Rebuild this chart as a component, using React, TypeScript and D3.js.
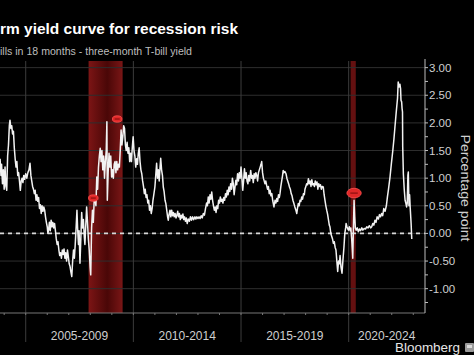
import React from "react";
import * as d3 from "d3";

// ---------- data ----------
const titleText = "rm yield curve for recession risk";
const subtitleText = "ills in 18 months - three-month T-bill yield";
const axisTitle = "Percentage point";
const sourceText = "Bloomberg";

const periodLabels = ["2005-2009", "2010-2014", "2015-2019", "2020-2024"];
const periodStarts = [2005, 2010, 2015, 2020];
const yTickValues = [3, 2.5, 2, 1.5, 1, 0.5, 0, -0.5, -1];
const yTickLabels = ["3.00", "2.50", "2.00", "1.50", "1.00", "0.50", "0.00", "-0.50", "-1.00"];
const recessions: [number, number][] = [
  [2007.92, 2009.5],
  [2020.09, 2020.33],
];
const annotations: [number, number, number][] = [
  // year, value, size
  [2008.14, 0.64, 1],
  [2009.25, 2.07, 1],
  [2020.25, 0.73, 1.5],
];

// [decimal year, spread in percentage points]
const spreadSeries: [number, number][] = [
  [2003.81, 1.35], [2003.85, 1.05], [2003.88, 1.25], [2003.92, 0.9], [2003.96, 1.15],
  [2004.0, 0.8], [2004.04, 1.2], [2004.08, 0.85], [2004.12, 0.78], [2004.16, 1.4],
  [2004.2, 1.6], [2004.24, 1.95], [2004.27, 2.05], [2004.31, 1.9], [2004.35, 1.95],
  [2004.39, 1.8], [2004.43, 1.85], [2004.47, 1.55], [2004.51, 1.35], [2004.55, 1.2],
  [2004.59, 1.3], [2004.63, 1.05], [2004.67, 1.1], [2004.71, 0.95], [2004.75, 0.78],
  [2004.79, 0.95], [2004.83, 1.0], [2004.87, 0.92], [2004.91, 1.05], [2004.95, 0.98],
  [2005.0, 1.08], [2005.05, 1.0], [2005.1, 1.1], [2005.15, 1.15], [2005.2, 1.27],
  [2005.24, 1.05], [2005.28, 0.95], [2005.32, 0.85], [2005.36, 0.8], [2005.4, 0.72],
  [2005.44, 0.78], [2005.48, 0.6], [2005.52, 0.7], [2005.56, 0.58], [2005.6, 0.65],
  [2005.64, 0.45], [2005.68, 0.52], [2005.72, 0.36], [2005.76, 0.5], [2005.8, 0.4],
  [2005.84, 0.48], [2005.88, 0.42], [2005.92, 0.3], [2005.96, 0.2], [2006.0, 0.12],
  [2006.03, 0.0], [2006.06, 0.05], [2006.1, 0.2], [2006.14, 0.05], [2006.18, 0.24],
  [2006.22, 0.12], [2006.26, 0.2], [2006.3, 0.1], [2006.34, 0.18], [2006.38, 0.05],
  [2006.42, -0.1], [2006.46, -0.2], [2006.5, -0.15], [2006.54, -0.3], [2006.58, -0.4],
  [2006.62, -0.35], [2006.66, -0.45], [2006.7, -0.3], [2006.74, -0.38], [2006.78, -0.28],
  [2006.82, -0.45], [2006.86, -0.35], [2006.9, -0.5], [2006.94, -0.3], [2006.98, -0.42],
  [2007.02, -0.55], [2007.06, -0.6], [2007.1, -0.7], [2007.14, -0.78], [2007.18, -0.5],
  [2007.22, -0.3], [2007.26, -0.45], [2007.3, -0.2], [2007.34, 0.1], [2007.38, 0.42],
  [2007.41, 0.1], [2007.45, -0.2], [2007.48, 0.05], [2007.52, -0.54], [2007.56, -0.1],
  [2007.6, 0.38], [2007.64, 0.1], [2007.68, 0.25], [2007.72, -0.05], [2007.75, -0.2],
  [2007.79, 0.15], [2007.83, 0.48], [2007.87, 0.2], [2007.91, -0.1], [2007.95, -0.3],
  [2007.99, -0.6], [2008.02, -0.75], [2008.06, 0.1], [2008.1, 0.42], [2008.14, 0.2],
  [2008.18, 0.6], [2008.22, 0.66], [2008.26, 0.5], [2008.3, 1.02], [2008.34, 0.8],
  [2008.38, 1.2], [2008.42, 1.4], [2008.46, 1.54], [2008.5, 1.3], [2008.54, 1.5],
  [2008.58, 1.15], [2008.62, 1.4], [2008.66, 1.0], [2008.7, 1.3], [2008.74, 1.5],
  [2008.77, 2.02], [2008.79, 0.6], [2008.83, 1.1], [2008.87, 1.45], [2008.91, 1.2],
  [2008.95, 1.4], [2008.99, 1.02], [2009.03, 1.15], [2009.07, 1.0], [2009.11, 1.25],
  [2009.15, 1.3], [2009.19, 1.1], [2009.23, 1.3], [2009.27, 1.15], [2009.31, 1.25],
  [2009.35, 1.2], [2009.39, 1.5], [2009.43, 1.87], [2009.47, 1.6], [2009.51, 1.75],
  [2009.55, 1.95], [2009.59, 1.9], [2009.63, 1.6], [2009.67, 1.5], [2009.71, 1.65],
  [2009.75, 1.45], [2009.79, 1.55], [2009.83, 1.3], [2009.87, 1.45], [2009.91, 1.3],
  [2009.95, 1.55], [2009.99, 1.75], [2010.03, 1.5], [2010.07, 1.4], [2010.11, 1.2],
  [2010.15, 1.35], [2010.19, 1.25], [2010.23, 1.45], [2010.27, 1.55], [2010.31, 1.3],
  [2010.35, 1.15], [2010.39, 1.08], [2010.43, 0.95], [2010.47, 0.85], [2010.51, 0.72],
  [2010.55, 0.8], [2010.59, 0.65], [2010.63, 0.7], [2010.67, 0.55], [2010.71, 0.6],
  [2010.75, 0.42], [2010.79, 0.5], [2010.83, 0.36], [2010.87, 0.45], [2010.91, 0.6],
  [2010.95, 0.7], [2011.0, 0.84], [2011.04, 1.05], [2011.08, 1.27], [2011.12, 1.0],
  [2011.16, 1.15], [2011.2, 0.95], [2011.24, 1.2], [2011.27, 1.36], [2011.31, 1.15],
  [2011.35, 1.05], [2011.39, 0.84], [2011.43, 0.75], [2011.47, 0.6], [2011.51, 0.54],
  [2011.55, 0.42], [2011.59, 0.3], [2011.62, 0.24], [2011.66, 0.35], [2011.7, 0.42],
  [2011.74, 0.3], [2011.78, 0.42], [2011.82, 0.32], [2011.86, 0.38], [2011.9, 0.3],
  [2011.94, 0.36], [2011.98, 0.28], [2012.02, 0.33], [2012.06, 0.4], [2012.1, 0.3],
  [2012.14, 0.36], [2012.18, 0.25], [2012.22, 0.33], [2012.26, 0.28], [2012.3, 0.35],
  [2012.34, 0.25], [2012.38, 0.3], [2012.42, 0.22], [2012.46, 0.28], [2012.5, 0.18],
  [2012.55, 0.26], [2012.6, 0.22], [2012.65, 0.3], [2012.7, 0.24], [2012.75, 0.3],
  [2012.8, 0.25], [2012.86, 0.3], [2012.9, 0.26], [2012.95, 0.3], [2013.0, 0.27],
  [2013.05, 0.3], [2013.1, 0.27], [2013.15, 0.32], [2013.2, 0.28], [2013.25, 0.36],
  [2013.3, 0.33], [2013.35, 0.45], [2013.4, 0.55], [2013.44, 0.5], [2013.48, 0.66],
  [2013.52, 0.55], [2013.56, 0.7], [2013.6, 0.62], [2013.64, 0.75], [2013.68, 0.6],
  [2013.72, 0.5], [2013.76, 0.42], [2013.8, 0.48], [2013.84, 0.38], [2013.88, 0.5],
  [2013.92, 0.45], [2013.96, 0.6], [2014.0, 0.55], [2014.04, 0.66], [2014.08, 0.58],
  [2014.12, 0.62], [2014.16, 0.55], [2014.2, 0.65], [2014.24, 0.6], [2014.28, 0.72],
  [2014.32, 0.66], [2014.36, 0.78], [2014.4, 0.7], [2014.44, 0.84], [2014.48, 0.76],
  [2014.52, 0.9], [2014.56, 0.8], [2014.6, 1.0], [2014.64, 0.9], [2014.68, 0.7],
  [2014.72, 0.84], [2014.76, 0.96], [2014.8, 0.88], [2014.84, 1.08], [2014.88, 0.95],
  [2014.92, 1.1], [2014.96, 1.0], [2015.0, 1.2], [2015.04, 1.0], [2015.08, 0.78],
  [2015.12, 0.95], [2015.16, 1.17], [2015.2, 1.0], [2015.24, 1.1], [2015.28, 0.95],
  [2015.32, 0.9], [2015.36, 1.05], [2015.4, 0.95], [2015.45, 1.14], [2015.49, 1.0],
  [2015.53, 1.05], [2015.57, 0.92], [2015.61, 1.08], [2015.65, 1.0], [2015.69, 1.1],
  [2015.73, 1.05], [2015.77, 0.95], [2015.81, 1.1], [2015.85, 1.15], [2015.89, 1.2],
  [2015.93, 1.25], [2015.96, 1.3], [2016.0, 1.1], [2016.04, 1.0], [2016.07, 0.96],
  [2016.11, 0.9], [2016.15, 0.95], [2016.19, 0.87], [2016.23, 0.8], [2016.27, 0.85],
  [2016.31, 0.72], [2016.35, 0.78], [2016.39, 0.68], [2016.43, 0.72], [2016.47, 0.6],
  [2016.53, 0.48], [2016.58, 0.6], [2016.62, 0.55], [2016.66, 0.63], [2016.7, 0.58],
  [2016.74, 0.7], [2016.78, 0.65], [2016.81, 0.72], [2016.85, 0.85], [2016.89, 0.95],
  [2016.93, 1.05], [2016.96, 1.14], [2017.0, 1.1], [2017.04, 1.12], [2017.09, 1.08],
  [2017.13, 1.0], [2017.17, 0.95], [2017.21, 0.9], [2017.25, 0.84], [2017.29, 0.8],
  [2017.33, 0.72], [2017.37, 0.68], [2017.41, 0.6], [2017.45, 0.55], [2017.5, 0.48],
  [2017.55, 0.42], [2017.59, 0.36], [2017.62, 0.45], [2017.66, 0.54], [2017.7, 0.5],
  [2017.74, 0.6], [2017.78, 0.58], [2017.82, 0.66], [2017.86, 0.62], [2017.9, 0.72],
  [2017.94, 0.7], [2017.97, 0.8], [2018.01, 0.85], [2018.05, 0.9], [2018.09, 0.88],
  [2018.13, 0.99], [2018.17, 0.9], [2018.21, 0.95], [2018.25, 0.85], [2018.29, 0.97],
  [2018.33, 0.88], [2018.37, 0.9], [2018.41, 0.85], [2018.45, 0.95], [2018.49, 0.88],
  [2018.53, 0.93], [2018.57, 0.8], [2018.61, 0.9], [2018.65, 0.85], [2018.69, 0.88],
  [2018.73, 0.8], [2018.77, 0.85], [2018.82, 0.84], [2018.86, 0.7], [2018.9, 0.6],
  [2018.94, 0.5], [2018.98, 0.42], [2019.02, 0.35], [2019.06, 0.25], [2019.1, 0.15],
  [2019.13, 0.12], [2019.17, 0.0], [2019.21, -0.05], [2019.25, -0.1], [2019.29, -0.18],
  [2019.33, -0.15], [2019.37, -0.25], [2019.41, -0.3], [2019.45, -0.5], [2019.49, -0.69],
  [2019.53, -0.5], [2019.57, -0.55], [2019.6, -0.4], [2019.64, -0.6], [2019.69, -0.72],
  [2019.73, -0.5], [2019.78, -0.25], [2019.82, 0.0], [2019.86, 0.1], [2019.88, 0.18],
  [2019.92, 0.12], [2019.96, 0.08], [2019.99, 0.06], [2020.03, 0.12], [2020.07, 0.05],
  [2020.1, 0.1], [2020.14, -0.1], [2020.17, -0.3], [2020.19, -0.45], [2020.22, 0.1],
  [2020.25, 0.6], [2020.28, 0.3], [2020.31, 0.1], [2020.35, 0.06], [2020.4, 0.1],
  [2020.45, 0.03], [2020.5, 0.08], [2020.55, 0.05], [2020.61, 0.1], [2020.66, 0.06],
  [2020.72, 0.09], [2020.78, 0.08], [2020.84, 0.12], [2020.9, 0.1], [2020.96, 0.14],
  [2021.02, 0.1], [2021.07, 0.12], [2021.12, 0.18], [2021.17, 0.15], [2021.22, 0.24],
  [2021.27, 0.2], [2021.32, 0.3], [2021.38, 0.26], [2021.43, 0.34], [2021.48, 0.3],
  [2021.53, 0.36], [2021.58, 0.32], [2021.63, 0.45], [2021.69, 0.4], [2021.75, 0.5],
  [2021.8, 0.66], [2021.85, 0.8], [2021.92, 1.02], [2021.98, 1.25], [2022.05, 1.5],
  [2022.1, 1.7], [2022.15, 1.93], [2022.21, 2.2], [2022.27, 2.45], [2022.3, 2.74],
  [2022.34, 2.65], [2022.38, 2.7], [2022.41, 2.62], [2022.43, 2.41], [2022.46, 2.38],
  [2022.48, 2.26], [2022.5, 2.2], [2022.51, 1.57], [2022.54, 1.08], [2022.58, 0.8],
  [2022.62, 0.6], [2022.66, 0.54], [2022.69, 0.48], [2022.72, 0.55], [2022.75, 1.05],
  [2022.77, 1.11], [2022.8, 0.5], [2022.83, 0.7], [2022.86, 0.45], [2022.9, 0.18],
  [2022.93, -0.1],
];

// ---------- layout ----------
const W = 474;
const H = 355;
const plotLeft = 0;
const plotRight = 425;
const plotTop = 61;
const plotBottom = 313;
const FONT = "'Liberation Sans', Arial, sans-serif";

export default function App() {
  React.useEffect(() => {
    document.body.style.margin = "0";
    document.body.style.background = "#000";
  }, []);

  const x = d3.scaleLinear().domain([2003.806, 2023.545]).range([plotLeft, plotRight]);
  const y = d3.scaleLinear().domain([-1.44, 3.12]).range([plotBottom, plotTop]);

  const line = d3
    .line<[number, number]>()
    .x((d) => x(d[0]))
    .y((d) => y(d[1]));

  const minorY = d3.range(-1.25, 3.01, 0.25);
  const yearTicks = d3.range(2004, 2024, 1);

  return (
    <svg
      width={W}
      height={H}
      viewBox={`0 0 ${W} ${H}`}
      style={{ position: "fixed", left: 0, top: 0, background: "#000", display: "block" }}
    >
      <defs>
        <linearGradient id="recGrad" x1="0" x2="1" y1="0" y2="0">
          <stop offset="0%" stopColor="#7c1515" />
          <stop offset="55%" stopColor="#4a0707" />
          <stop offset="100%" stopColor="#7a1616" />
        </linearGradient>
      </defs>
      <rect x={0} y={0} width={W} height={H} fill="#000" />

      {/* recession bands */}
      {recessions.map(([a, b], i) => (
        <rect
          key={i}
          x={x(a)}
          y={plotTop}
          width={x(b) - x(a)}
          height={plotBottom - plotTop}
          fill={i === 0 ? "url(#recGrad)" : "#641010"}
        />
      ))}

      {/* horizontal gridlines */}
      {yTickValues.map((v) => (
        <line
          key={v}
          x1={plotLeft}
          x2={plotRight}
          y1={y(v)}
          y2={y(v)}
          stroke="#2e2e2e"
          strokeWidth={1}
        />
      ))}

      {/* vertical period separators */}
      {periodStarts.map((p) => (
        <line
          key={p}
          x1={x(p)}
          x2={x(p)}
          y1={plotTop}
          y2={342}
          stroke="#3c3c3c"
          strokeWidth={1}
        />
      ))}

      {/* zero dashed line */}
      <line
        x1={plotLeft}
        x2={plotRight}
        y1={y(0)}
        y2={y(0)}
        stroke="#d8d8d8"
        strokeWidth={1.6}
        strokeDasharray="4 4"
      />

      {/* data line */}
      <path
        d={line(spreadSeries) || ""}
        fill="none"
        stroke="#f2f2f2"
        strokeWidth={1.5}
        strokeLinejoin="round"
      />

      {/* annotation markers */}
      {annotations.map(([yr, v, s], i) => (
        <g key={i}>
          <ellipse
            cx={x(yr)}
            cy={y(v)}
            rx={4.8 * s}
            ry={3.2 * s}
            fill="#e02828"
            stroke="#ff5050"
            strokeWidth={0.8}
          />
          <line
            x1={x(yr) - 2.5 * s}
            x2={x(yr) + 2.5 * s}
            y1={y(v)}
            y2={y(v)}
            stroke="#7a0a0a"
            strokeWidth={1}
          />
        </g>
      ))}

      {/* x axis */}
      <line x1={plotLeft} x2={plotRight} y1={plotBottom} y2={plotBottom} stroke="#777" strokeWidth={1} />
      {yearTicks.map((t) => (
        <line
          key={t}
          x1={x(t)}
          x2={x(t)}
          y1={plotBottom}
          y2={plotBottom + 2}
          stroke="#777"
          strokeWidth={1}
        />
      ))}
      {periodLabels.map((lab, i) => {
        const start = periodStarts[i];
        const end = Math.min(start + 5, 2023.545);
        const cx = i === 3 ? x(start) + 38 : (x(start) + x(end)) / 2;
        return (
          <text
            key={lab}
            x={cx}
            y={340}
            fill="#cfcfcf"
            fontSize={12}
            fontFamily={FONT}
            textAnchor="middle"
          >
            {lab}
          </text>
        );
      })}

      {/* y axis */}
      <line x1={plotRight} x2={plotRight} y1={plotTop - 2} y2={plotBottom} stroke="#bdbdbd" strokeWidth={1} />
      {minorY.map((v) => (
        <line
          key={v}
          x1={plotRight}
          x2={plotRight + 3}
          y1={y(v)}
          y2={y(v)}
          stroke="#bdbdbd"
          strokeWidth={1}
        />
      ))}
      {yTickValues.map((v, i) => (
        <text
          key={v}
          x={plotRight + 4}
          y={y(v) + 4}
          fill="#d0d0d0"
          fontSize={11.5}
          fontFamily={FONT}
        >
          {yTickLabels[i]}
        </text>
      ))}
      <text
        transform={`translate(461, 188) rotate(90)`}
        fill="#d0d0d0"
        fontSize={13}
        fontFamily={FONT}
        textAnchor="middle"
        textLength={107}
        lengthAdjust="spacingAndGlyphs"
      >
        {axisTitle}
      </text>

      {/* title & subtitle */}
      <text
        x={0}
        y={34}
        fill="#ffffff"
        fontSize={15}
        fontWeight="bold"
        fontFamily={FONT}
        textLength={238}
        lengthAdjust="spacingAndGlyphs"
      >
        {titleText}
      </text>
      <text
        x={0}
        y={55}
        fill="#bdbdbd"
        fontSize={10}
        fontFamily={FONT}
        textLength={192}
        lengthAdjust="spacingAndGlyphs"
      >
        {subtitleText}
      </text>

      {/* source */}
      <text
        x={395}
        y={352}
        fill="#e6e6e6"
        fontSize={12.5}
        fontFamily={FONT}
        textLength={65}
        lengthAdjust="spacingAndGlyphs"
      >
        {sourceText}
      </text>
      <rect x={465} y={343} width={9} height={9} rx={1} fill="#9a9a9a" />
      <rect x={467} y={345} width={5} height={3} fill="#d8d8d8" />
    </svg>
  );
}
